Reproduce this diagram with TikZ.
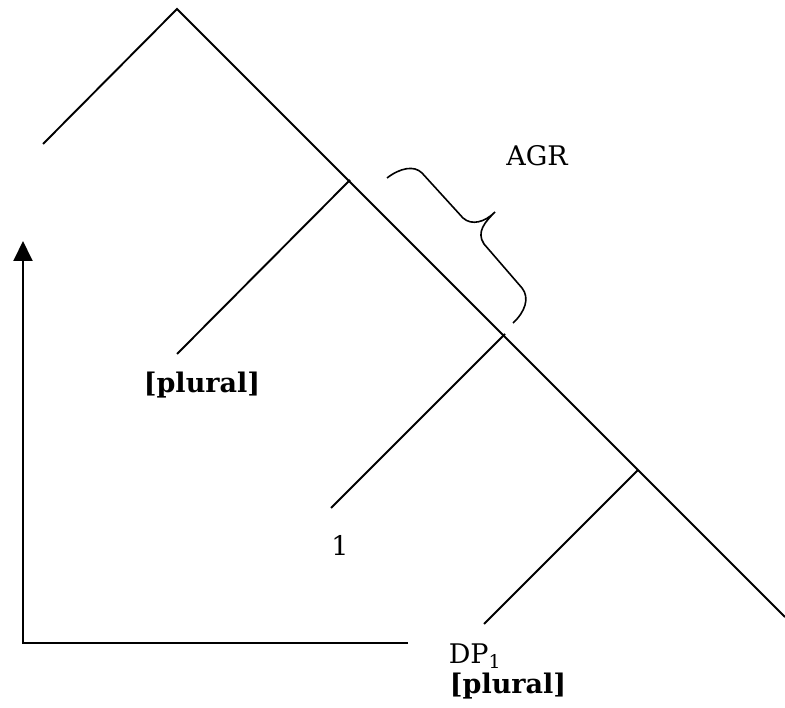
\documentclass[tikz,border=0pt]{standalone}
\usepackage{fontspec}
\setmainfont{DejaVu Serif}
\usepackage{tikz}
\usetikzlibrary{arrows.meta}

\tikzset{
  branch/.style={line width=1.9pt},
  lbl/.style={inner sep=0pt, font=\fontsize{27}{32}\selectfont},
  feat/.style={inner sep=0pt, font=\fontsize{27}{32}\selectfont\bfseries}
}

\begin{document}
\begin{tikzpicture}[x=1pt, y=-1pt]
\useasboundingbox (0,0) rectangle (785,708);
% tree points
\coordinate (top) at (177,9);
\coordinate (spec) at (43,144);
\coordinate (n1) at (350,180);
\coordinate (n2) at (505,334);
\coordinate (n3) at (638,470);
\coordinate (foot) at (785,617);
\coordinate (l1) at (177,354);
\coordinate (l2) at (331,508);
\coordinate (l3) at (484,624);
\coordinate (corner) at (23,643);
\coordinate (up) at (23,241);
\coordinate (tail) at (408,643);
% labels
\node[lbl] (agr) at (537,156) {AGR};
\node[feat] (pl1) at (202,385) {[plural]};
\node[lbl] (one) at (340,545) {1};
\node[lbl] (dp) at (475,656) {DP\textsubscript{1}};
\node[feat] (pl2) at (508,686) {[plural]};
% branches
\draw[branch] (spec) -- (top) -- (foot);
\draw[branch] (n1) -- (l1);
\draw[branch] (n2) -- (l2);
\draw[branch] (n3) -- (l3);
% brace
\draw[line width=1.6pt] (387,178) .. controls (400,168) and (414,165) .. (422,173) -- (463,218)
  .. controls (472,226) and (485,222) .. (495,212)
  .. controls (485,222) and (476,232) .. (484,244) -- (522,288)
  .. controls (530,298) and (525,312) .. (513,323);
% movement
\draw[branch, -{Triangle[length=20pt, width=19pt]}] (tail) -- (corner) -- (up);
\end{tikzpicture}
\end{document}
